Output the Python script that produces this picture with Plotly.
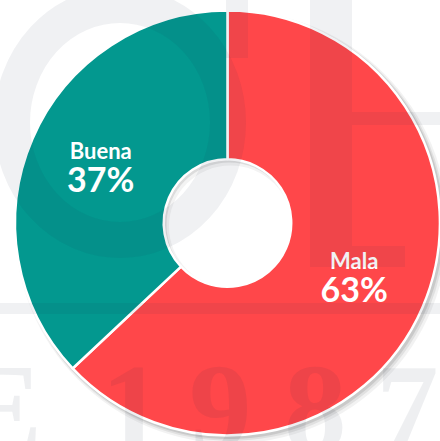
import plotly.graph_objects as go

labels = ["Mala", "Buena"]
values = [63, 37]
colors = ["#FF474A", "#03988F"]

W, H = 440, 441

fig = go.Figure()
fig.add_trace(go.Pie(
    labels=labels,
    values=values,
    hole=0.3,
    sort=False,
    direction="clockwise",
    rotation=0,
    marker=dict(colors=colors, line=dict(color="white", width=2.5)),
    texttemplate="<b><span style='font-size:22px'>%{label}</span></b><br><b><span style='font-size:34px'>%{percent}</span></b>",
    textposition="inside",
    insidetextorientation="horizontal",
    textfont=dict(family="Lato, sans-serif", size=25, color="white"),
    showlegend=False,
    hoverinfo="label+percent",
    domain=dict(x=[0.034, 1.0], y=[0.0125, 0.976]),
))

def px(x):
    return x / W

def py(y):
    return (H - y) / H

cx, cy, r = 227.5, 223, 212.5
hr = 63.5
shapes = []
# soft drop shadow behind the ring
for off, extra, a in [(4, 4, 0.05), (3, 2.5, 0.07), (2, 1.5, 0.10)]:
    shapes.append(dict(type="circle", xref="paper", yref="paper", layer="below",
                       x0=px(cx - r - extra + off), x1=px(cx + r + extra + off),
                       y0=py(cy + r + extra + off), y1=py(cy - r - extra + off),
                       fillcolor=f"rgba(0,0,0,{a})", line=dict(width=0)))
# hole: white with a soft inner shadow at the upper left
shapes.append(dict(type="circle", xref="paper", yref="paper", layer="below",
                   x0=px(cx - hr), x1=px(cx + hr), y0=py(cy + hr), y1=py(cy - hr),
                   fillcolor="#dcdcdc", line=dict(width=0)))
shapes.append(dict(type="circle", xref="paper", yref="paper", layer="below",
                   x0=px(cx - hr + 2.5), x1=px(cx + hr + 1), y0=py(cy + hr + 1), y1=py(cy - hr + 3),
                   fillcolor="#f3f3f3", line=dict(width=0)))
shapes.append(dict(type="circle", xref="paper", yref="paper", layer="below",
                   x0=px(cx - hr + 5), x1=px(cx + hr + 1), y0=py(cy + hr + 1), y1=py(cy - hr + 6),
                   fillcolor="white", line=dict(width=0)))

wm = "rgba(30,40,70,0.065)"
# faint watermark logo pieces
shapes.append(dict(type="circle", xref="paper", yref="paper", layer="above",
                   x0=px(12), x1=px(228), y0=py(240), y1=py(5),
                   fillcolor="rgba(0,0,0,0)", line=dict(color=wm, width=36)))
shapes.append(dict(type="rect", xref="paper", yref="paper", layer="above",
                   x0=px(226), x1=px(248), y0=py(58), y1=py(0),
                   fillcolor=wm, line=dict(width=0)))
shapes.append(dict(type="rect", xref="paper", yref="paper", layer="above",
                   x0=px(310), x1=px(352), y0=py(267), y1=py(0),
                   fillcolor=wm, line=dict(width=0)))
shapes.append(dict(type="rect", xref="paper", yref="paper", layer="above",
                   x0=px(352), x1=px(405), y0=py(267), y1=py(246),
                   fillcolor=wm, line=dict(width=0)))
shapes.append(dict(type="rect", xref="paper", yref="paper", layer="above",
                   x0=px(352), x1=px(440), y0=py(125), y1=py(112),
                   fillcolor=wm, line=dict(width=0)))
shapes.append(dict(type="rect", xref="paper", yref="paper", layer="above",
                   x0=0, x1=1, y0=py(314), y1=py(303),
                   fillcolor=wm, line=dict(width=0)))

annotations = []
for ch, x in [("E", 0), ("1", 132), ("9", 220), ("8", 315), ("7", 407)]:
    annotations.append(dict(text=ch, x=px(x), y=py(408), xref="paper", yref="paper",
                            showarrow=False, xanchor="center", yanchor="middle",
                            font=dict(family="Liberation Serif", size=125, color="rgba(30,40,70,0.075)",
                                      weight="bold")))

fig.update_layout(
    width=W, height=H,
    margin=dict(l=0, r=0, t=0, b=0),
    paper_bgcolor="white",
    plot_bgcolor="white",
    shapes=shapes,
    annotations=annotations,
)

fig.write_html("out.html", config={"displayModeBar": False},
               post_script="document.body.style.margin='0';")
